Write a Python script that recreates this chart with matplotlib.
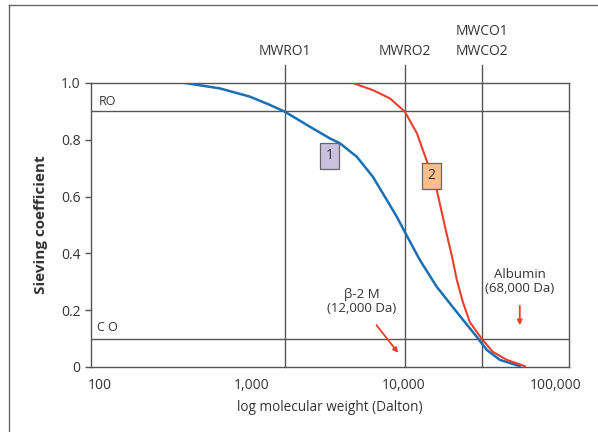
import matplotlib
matplotlib.use("Agg")
import matplotlib.pyplot as plt
from matplotlib.lines import Line2D
from matplotlib.ticker import FixedLocator, NullLocator

plt.rcParams['font.family'] = ['Open Sans', 'DejaVu Sans']

# curve 1 (blue) - molecular weight (Da) vs sieving coefficient
blue_mw = [362, 615, 970, 1312, 1648, 2410, 3260, 3790, 4910, 6250, 7730,
           8990, 10160, 12740, 16480, 23350, 30200, 35150, 42850, 57940]
blue_sc = [1.0, 0.981, 0.952, 0.923, 0.899, 0.846, 0.805, 0.788, 0.74, 0.67,
           0.588, 0.529, 0.475, 0.377, 0.282, 0.18, 0.106, 0.06, 0.025, 0.003]

# curve 2 (red)
red_mw = [4610, 6250, 8090, 10160, 12190, 14170, 16480, 18880, 20700,
          22340, 24440, 27180, 32580, 38550, 47640, 62520]
red_sc = [1.0, 0.975, 0.946, 0.899, 0.823, 0.725, 0.623, 0.482, 0.391,
          0.306, 0.229, 0.158, 0.099, 0.053, 0.025, 0.003]

# cut-off / retention lines
vline_mw = [1650, 10200, 32600]
vline_labels = ["MWRO1", "MWRO2", "MWCO1\nMWCO2"]
hline_sc = [0.9, 0.1]
hline_labels = ["RO", "C O"]

x_ticks = [100, 1000, 10000, 100000]
x_ticklabels = ["100", "1,000", "10,000", "100,000"]
y_ticks = [0, 0.2, 0.4, 0.6, 0.8, 1.0]
y_ticklabels = ["0", "0.2", "0.4", "0.6", "0.8", "1.0"]

blue = "#1a6fb5"
red = "#e8402a"
grey = "#555555"
txt = "#333333"

fig = plt.figure(figsize=(5.98, 4.32), dpi=100)
ax = fig.add_axes([0.152, 0.1505, 0.7993, 0.6574])

ax.set_xscale("log")
ax.set_xlim(10 ** 1.941, 10 ** 5.086)
ax.set_ylim(0, 1.0)

for mw, lab in zip(vline_mw, vline_labels):
    ax.plot([mw, mw], [0, 1.065], color=grey, lw=1.0, clip_on=False, zorder=1)
    ax.text(mw, 1.085, lab, ha="center", va="bottom", fontsize=10,
            color=txt, linespacing=1.4)

for sc in hline_sc:
    ax.axhline(sc, color=grey, lw=1.0, zorder=1)
ax.text(10 ** 1.99, 0.935, hline_labels[0], fontsize=9, color=txt, va="center")
ax.text(10 ** 1.98, 0.14, hline_labels[1], fontsize=9, color=txt, va="center")

ax.plot(blue_mw, blue_sc, color=blue, lw=1.8, zorder=3, solid_joinstyle="round")
ax.plot(red_mw, red_sc, color=red, lw=1.5, zorder=3, solid_joinstyle="round")

ax.text(3260, 0.743, "1", ha="center", va="center", fontsize=10, color=txt, zorder=4,
        bbox=dict(boxstyle="square,pad=0.4", fc="#c9c1dd", ec="#666666", lw=0.9))
ax.text(15200, 0.673, "2", ha="center", va="center", fontsize=10, color=txt, zorder=4,
        bbox=dict(boxstyle="square,pad=0.4", fc="#f9be8c", ec="#666666", lw=0.9))

ax.text(5300, 0.229, "\u03b2-2 M\n(12,000 Da)", ha="center", va="center",
        fontsize=9.5, color=txt, linespacing=1.1)
ax.annotate("", xy=(9420, 0.042), xytext=(6440, 0.155),
            arrowprops=dict(arrowstyle="-|>", color=red, lw=1.3, mutation_scale=7))
ax.text(57900, 0.30, "Albumin\n(68,000 Da)", ha="center", va="center",
        fontsize=9.5, color=txt, linespacing=1.1)
ax.annotate("", xy=(57940, 0.137), xytext=(57940, 0.225),
            arrowprops=dict(arrowstyle="-|>", color=red, lw=1.3, mutation_scale=7))

ax.xaxis.set_major_locator(FixedLocator(x_ticks))
ax.xaxis.set_minor_locator(NullLocator())
ax.set_xticklabels(x_ticklabels)
ax.tick_params(axis="x", length=0, pad=8, labelsize=10, labelcolor=txt)
ax.set_yticks(y_ticks)
ax.set_yticklabels(y_ticklabels)
ax.tick_params(axis="y", length=4, width=1, color=grey, labelsize=10, labelcolor=txt)

for sp in ax.spines.values():
    sp.set_color(grey)
    sp.set_linewidth(1.0)

ax.set_xlabel("log molecular weight (Dalton)", fontsize=9.8, color=txt, labelpad=5)
ax.set_ylabel("Sieving coefficient", fontsize=11, color=txt, fontweight="bold", labelpad=9)

# outer frame
fig.add_artist(Line2D([9 / 598, 9 / 598], [0, 1 - 5 / 432], color="#666666", lw=1.0))
fig.add_artist(Line2D([9 / 598, 1], [1 - 5 / 432, 1 - 5 / 432], color="#666666", lw=1.0))

fig.savefig("out.png", dpi=100)
